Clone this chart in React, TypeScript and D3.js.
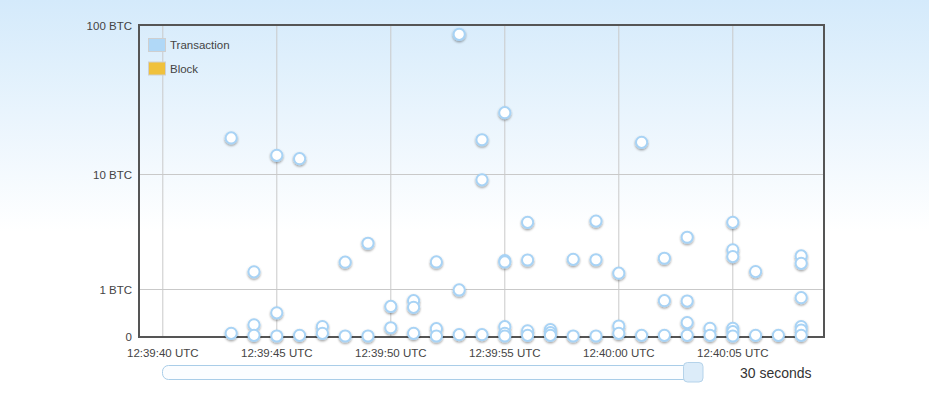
import React from "react";
import * as d3 from "d3";

// Transaction times (second offset after 12:39:00 UTC) and amounts in BTC
const txSeconds: number[] = [
  43, 43,
  44, 44, 44,
  45, 45, 45,
  46, 46,
  47, 47,
  48, 48,
  49, 49,
  50, 50,
  51, 51, 51,
  52, 52, 52,
  53, 53, 53,
  54, 54, 54,
  55, 55, 55, 55, 55, 55,
  56, 56, 56, 56,
  57, 57, 57,
  58, 58,
  59, 59, 59,
  60, 60, 60,
  61, 61,
  62, 62, 62,
  63, 63, 63, 63,
  64, 64,
  65, 65, 65, 65, 65, 65,
  66, 66,
  67,
  68, 68, 68, 68, 68, 68,
];
const txBtc: number[] = [
  17.9, 0.04,
  1.59, 0.18, 0.01,
  13.6, 0.41, 0,
  12.9, 0.01,
  0.15, 0.04,
  1.99, 0,
  2.96, 0,
  0.55, 0.13,
  0.69, 0.53, 0.04,
  2.0, 0.115, 0,
  87, 0.98, 0.02,
  17.4, 9.15, 0.02,
  26.5, 2.06, 2.0, 0.148, 0.04, 0,
  4.4, 2.09, 0.08, 0.01,
  0.1, 0.05, 0.01,
  2.12, 0,
  4.5, 2.1, 0,
  1.54, 0.16, 0.04,
  16.7, 0.01,
  2.17, 0.69, 0.01,
  3.33, 0.68, 0.22, 0.01,
  0.12, 0.01,
  4.4, 2.59, 2.25, 0.12, 0.066, 0,
  1.6, 0.01,
  0.01,
  2.28, 1.94, 0.766, 0.15, 0.093, 0.01,
];

const yTickValues: number[] = [0, 1, 10, 100];
const yTickLabels: string[] = ["0", "1 BTC", "10 BTC", "100 BTC"];
const legendLabels: string[] = ["Transaction", "Block"];
const legendColors: string[] = ["#b0d8f7", "#f0c13c"];
const windowLabel = "30 seconds";

const W = 929;
const H = 399;
const left = 140;
const right = 824;
const top = 25;
const bottom = 336;
const FONT = "'Liberation Sans', Arial, sans-serif";

const base = Date.UTC(2014, 0, 1, 12, 39, 0);
const t = (s: number) => new Date(base + s * 1000);

export default function App() {
  const x = d3.scaleUtc().domain([t(39), t(69)]).range([left, right]);
  const y = d3.scaleSymlog().constant(1).domain([0, 100]).range([bottom, top]);
  const xTicks = x.ticks(d3.utcSecond.every(5) as any);
  const fmt = d3.utcFormat("%H:%M:%S UTC");

  const points = txSeconds.map((s, i) => ({ s, v: txBtc[i] }));

  return (
    <svg
      width={W}
      height={H}
      style={{ position: "absolute", left: 0, top: 0, display: "block" }}
      fontFamily={FONT}
    >
      <defs>
        <linearGradient id="bg" x1="0" y1="0" x2="0" y2="1">
          <stop offset="0" stopColor="#d4eafb" />
          <stop offset="0.58" stopColor="#ffffff" />
          <stop offset="1" stopColor="#ffffff" />
        </linearGradient>
        <filter id="shadow" x="-50%" y="-50%" width="200%" height="200%">
          <feDropShadow dx="0" dy="1.3" stdDeviation="0.9" floodColor="#000" floodOpacity="0.38" />
        </filter>
      </defs>
      <rect x={0} y={0} width={W} height={H} fill="url(#bg)" />

      {/* grid */}
      {xTicks.map((d, i) => (
        <line key={"gx" + i} x1={x(d)} x2={x(d)} y1={top} y2={bottom} stroke="#c9c9c9" strokeWidth={1} />
      ))}
      {yTickValues.filter((v) => v > 0 && v < 100).map((v, i) => (
        <line key={"gy" + i} x1={left} x2={right} y1={Math.round(y(v)) + 0.5} y2={Math.round(y(v)) + 0.5} stroke="#c9c9c9" strokeWidth={1} />
      ))}

      {/* frame */}
      <path
        d={`M${left - 1},${bottom + 1} V${top} H${right} V${bottom + 1} Z`}
        fill="none"
        stroke="#555"
        strokeWidth={2}
      />

      {/* y labels */}
      {yTickValues.map((v, i) => (
        <text key={"yl" + i} x={132} y={y(v) + 5} textAnchor="end" fontSize={11.5} fill="#444">
          {yTickLabels[i]}
        </text>
      ))}

      {/* x labels */}
      {xTicks.map((d, i) => (
        <text key={"xl" + i} x={x(d)} y={356.5} textAnchor="middle" fontSize={11.5} fill="#444">
          {fmt(d)}
        </text>
      ))}

      {/* legend */}
      {legendLabels.map((l, i) => (
        <g key={"lg" + i} transform={`translate(148.5,${38.5 + i * 23.5})`}>
          <rect x={0} y={0} width={17} height={13} fill={legendColors[i]} stroke="#cfcfcf" strokeWidth={1} />
          <text x={21.5} y={10.5} fontSize={11.5} fill="#444">{l}</text>
        </g>
      ))}

      {/* points */}
      <g filter="url(#shadow)">
        {points.map((p, i) => (
          <circle key={"p" + i} cx={x(t(p.s))} cy={y(p.v)} r={5.6} fill="#fff" stroke="#a8d3f5" strokeWidth={2} />
        ))}
      </g>

      {/* slider */}
      <rect x={162.5} y={365.5} width={540} height={14} rx={6} fill="#fbfdff" stroke="#a9cde8" strokeWidth={1} />
      <rect x={683.5} y={362.5} width={19.5} height={19.5} rx={4} fill="#dcecf9" stroke="#b5d3ea" strokeWidth={1} />
      <text x={740} y={378} fontSize={14} fill="#333">{windowLabel}</text>
    </svg>
  );
}
